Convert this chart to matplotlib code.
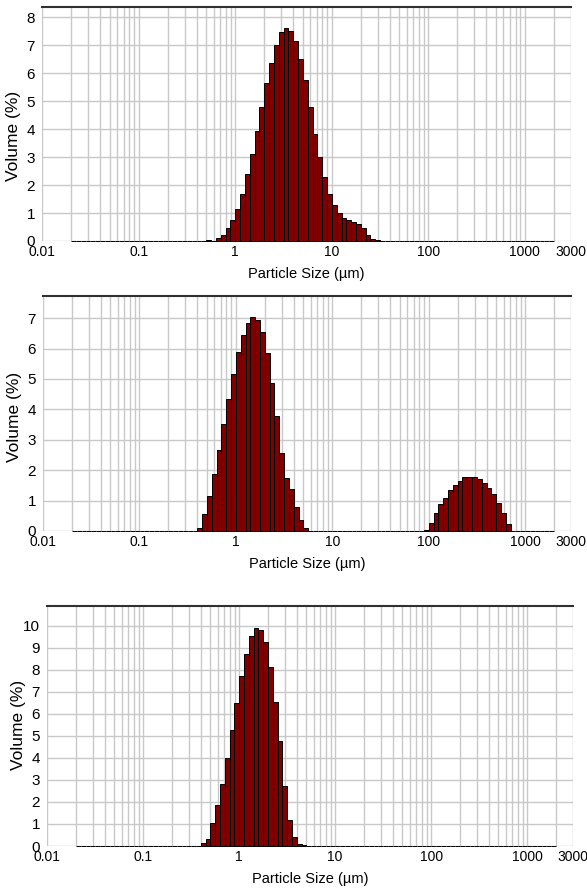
import matplotlib
matplotlib.use("Agg")
import matplotlib.pyplot as plt
import numpy as np

plt.rcParams['font.family'] = ['Liberation Sans', 'DejaVu Sans']

# instrument size classes: 100 log-spaced bins, 0.02 - 2000 um
edges = np.geomspace(0.02, 2000, 101)

# volume % per size class, first non-empty class index given separately
top_start = 28
top_vol = [0.05, 0.0, 0.10, 0.22, 0.45, 0.75, 1.14, 1.69, 2.38, 3.10, 3.92, 4.80,
           5.63, 6.37, 7.02, 7.46, 7.61, 7.51, 7.14, 6.50, 5.75, 4.80, 3.84, 3.00,
           2.28, 1.67, 1.28, 1.01, 0.83, 0.76, 0.69, 0.62, 0.46, 0.22, 0.07, 0.03]

mid_start_a = 26
mid_vol_a = [0.09, 0.55, 1.15, 1.87, 2.65, 3.53, 4.34, 5.17, 5.89, 6.45, 6.85, 7.03,
             6.94, 6.54, 5.84, 4.88, 3.79, 2.56, 1.74, 1.38, 0.79, 0.36, 0.09]
mid_start_b = 73
mid_vol_b = [0.03, 0.27, 0.60, 0.88, 1.10, 1.34, 1.51, 1.65, 1.78, 1.79, 1.79, 1.72,
             1.57, 1.40, 1.22, 0.91, 0.58, 0.23]

bot_start = 26
bot_vol = [0.12, 0.32, 1.05, 1.86, 2.82, 3.98, 5.29, 6.50, 7.73, 8.74, 9.52, 9.89,
           9.82, 9.26, 8.12, 6.56, 4.77, 2.73, 1.18, 0.42, 0.08, 0.03]

xtick_vals = [0.01, 0.1, 1, 10, 100, 1000, 3000]
xtick_labels = ['0.01', '0.1', '1', '10', '100', '1000', '3000']


def fill(parts):
    h = np.zeros(100)
    for start, vals in parts:
        h[start:start + len(vals)] = vals
    return h


W, H = 587, 889
fig = plt.figure(figsize=(W / 100, H / 100), dpi=100)


def panel(l, t, r, b, heights, ymax, ntick, ylab_y):
    ax = fig.add_axes([l / W, 1 - b / H, (r - l) / W, (b - t) / H])
    ax.set_xscale('log')
    ax.set_xlim(0.01, 3000)
    ax.set_ylim(0, ymax)
    ax.set_axisbelow(True)
    ax.bar(edges[:-1], heights, width=np.diff(edges), align='edge',
           color='#800000', edgecolor='black', linewidth=0.7, clip_on=False)
    ax.set_xticks(xtick_vals)
    ax.set_xticklabels(xtick_labels)
    minors = [m * 10.0 ** e for e in range(-2, 4) for m in range(2, 10) if m * 10.0 ** e <= 3000]
    ax.set_xticks(minors, minor=True)
    ax.set_yticks(range(ntick + 1))
    ax.grid(True, which='both', color='#c8c8c8', linewidth=1.0)
    ax.tick_params(which='both', length=0)
    ax.tick_params(axis='y', pad=5, labelsize=11)
    ax.tick_params(axis='x', pad=3, labelsize=10)
    for s in ['left', 'right', 'bottom']:
        ax.spines[s].set_visible(False)
    ax.spines['top'].set_color('#303030')
    ax.spines['top'].set_linewidth(1.5)
    ax.set_xlabel('Particle Size (µm)', fontsize=10.5)
    ax.xaxis.set_label_coords(0.5, -26 / (b - t))
    ax.xaxis.label.set_va('top')
    ax.set_ylabel('Volume (%)', fontsize=12.5)
    ax.yaxis.set_label_coords(-21 / (r - l), (b - ylab_y) / (b - t))
    return ax


panel(42, 7, 571, 241, fill([(top_start, top_vol)]), 8.36, 8, 136)
panel(43, 296, 571, 531, fill([(mid_start_a, mid_vol_a), (mid_start_b, mid_vol_b)]), 7.73, 7, 417)
panel(47, 606, 573, 846, fill([(bot_start, bot_vol)]), 10.9, 10, 725)

fig.savefig('out.png', dpi=100)
